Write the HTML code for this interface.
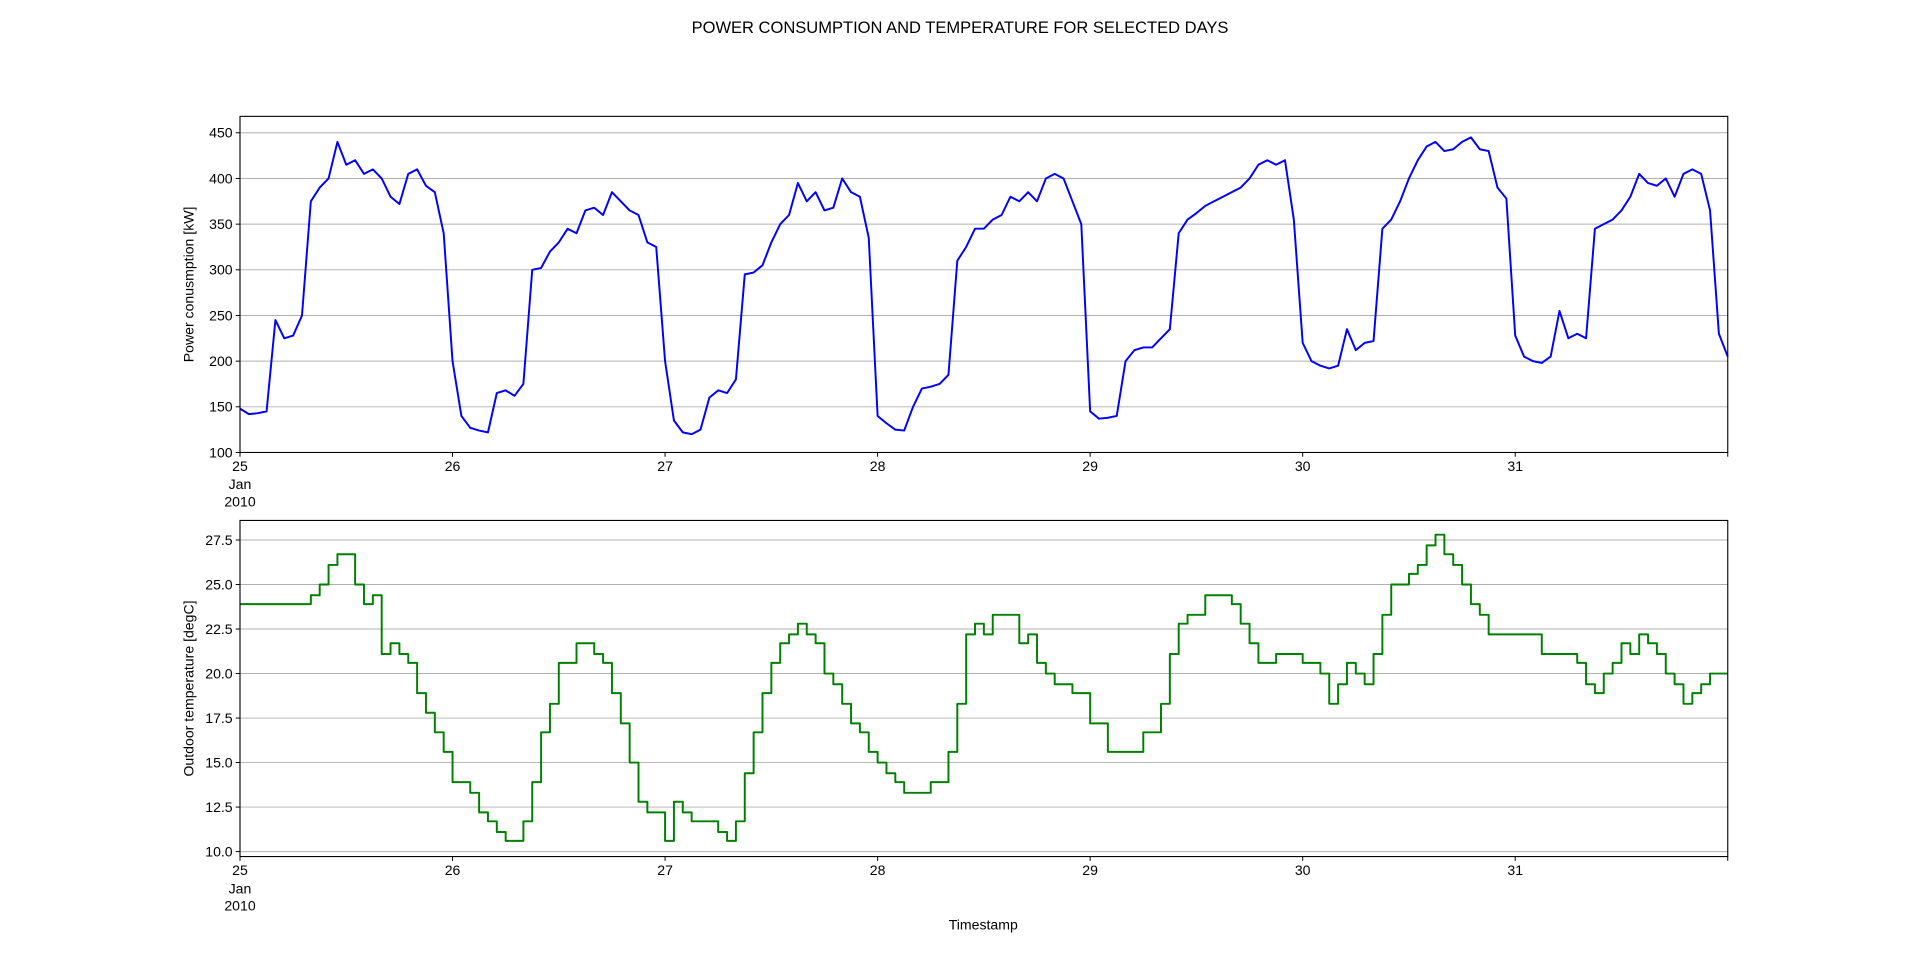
<!DOCTYPE html>
<html><head><meta charset="utf-8"><style>
html,body{margin:0;padding:0;background:#fff;}
svg{display:block;font-family:"Liberation Sans","DejaVu Sans",sans-serif;}
</style></head><body>
<svg id="chart" width="1920" height="963" viewBox="0 0 1568 786.4" xmlns="http://www.w3.org/2000/svg">
<rect width="1568" height="786.4" fill="#fff"/>
<text x="784" y="27" text-anchor="middle" font-size="13.5">POWER CONSUMPTION AND TEMPERATURE FOR SELECTED DAYS</text>
<g id="top"></g>
<g id="bot"></g>
<text x="803" y="759" text-anchor="middle" font-size="11.5">Timestamp</text>
</svg>
<script>
const dayLabels = ["25","26","27","28","29","30","31"];
const powerTicks = [100,150,200,250,300,350,400,450];
const tempTicks = [10.0,12.5,15.0,17.5,20.0,22.5,25.0,27.5];
const power = [
148,142,143,145,245,225,228,250,375,390,400,440,415,420,405,410,400,380,372,405,410,392,385,340,
200,140,127,124,122,165,168,162,175,300,302,320,330,345,340,365,368,360,385,375,365,360,330,325,
200,135,122,120,125,160,168,165,180,295,297,305,330,350,360,395,375,385,365,368,400,385,380,335,
140,132,125,124,150,170,172,175,185,310,325,345,345,355,360,380,375,385,375,400,405,400,375,350,
145,137,138,140,200,212,215,215,225,235,340,355,362,370,375,380,385,390,400,415,420,415,420,355,
220,200,195,192,195,235,212,220,222,345,355,375,400,420,435,440,430,432,440,445,432,430,390,378,
228,205,200,198,205,255,225,230,225,345,350,355,365,380,405,395,392,400,380,405,410,405,365,230,205];
const temp = [
23.9,23.9,23.9,23.9,23.9,23.9,23.9,23.9,24.4,25.0,26.1,26.7,26.7,25.0,23.9,24.4,21.1,21.7,21.1,20.6,18.9,17.8,16.7,15.6,
13.9,13.9,13.3,12.2,11.7,11.1,10.6,10.6,11.7,13.9,16.7,18.3,20.6,20.6,21.7,21.7,21.1,20.6,18.9,17.2,15.0,12.8,12.2,12.2,
10.6,12.8,12.2,11.7,11.7,11.7,11.1,10.6,11.7,14.4,16.7,18.9,20.6,21.7,22.2,22.8,22.2,21.7,20.0,19.4,18.3,17.2,16.7,15.6,
15.0,14.4,13.9,13.3,13.3,13.3,13.9,13.9,15.6,18.3,22.2,22.8,22.2,23.3,23.3,23.3,21.7,22.2,20.6,20.0,19.4,19.4,18.9,18.9,
17.2,17.2,15.6,15.6,15.6,15.6,16.7,16.7,18.3,21.1,22.8,23.3,23.3,24.4,24.4,24.4,23.9,22.8,21.7,20.6,20.6,21.1,21.1,21.1,
20.6,20.6,20.0,18.3,19.4,20.6,20.0,19.4,21.1,23.3,25.0,25.0,25.6,26.1,27.2,27.8,26.7,26.1,25.0,23.9,23.3,22.2,22.2,22.2,
22.2,22.2,22.2,21.1,21.1,21.1,21.1,20.6,19.4,18.9,20.0,20.6,21.7,21.1,22.2,21.7,21.1,20.0,19.4,18.3,18.9,19.4,20.0,20.0,20.0];

const NS="http://www.w3.org/2000/svg";
const X0=196, X1=1411, HOURS=168;
const xh = h => X0 + (X1-X0)*h/HOURS;
function mk(tag, attrs, parent){const e=document.createElementNS(NS,tag);for(const k in attrs)e.setAttribute(k,attrs[k]);parent.appendChild(e);return e;}

function panel(g, top, bot, vmin, vmax, ticks, fmt, ylabel, data, color, step, panelName){
  const y = v => bot - (v-vmin)/(vmax-vmin)*(bot-top);
  ticks.forEach(t=>{
    const gl=mk('line',{x1:X0,x2:X1,y1:y(t),y2:y(t),stroke:'#b0b0b0','stroke-width':0.8},g);
    
    
    const tk=mk('line',{x1:X0-3.5,x2:X0,y1:y(t),y2:y(t),stroke:'#000','stroke-width':0.8},g);
    
    
    const tl=mk('text',{x:X0-6,y:y(t)+4,'text-anchor':'end','font-size':11.5},g);
    
    
    tl.textContent=fmt(t);
  });
  let d='';
  data.forEach((v,i)=>{
    const px=xh(i), py=y(v);
    if(i===0) d+='M'+px+','+py;
    else if(step) d+='H'+px+'V'+py;
    else d+='L'+px+','+py;
  });
  if(step) d+='H'+X1;
  const ln=mk('path',{d:d,fill:'none',stroke:color,'stroke-width':1.6,'stroke-linejoin':'round'},g);
  
  
  const fr=mk('rect',{x:X0,y:top,width:X1-X0,height:bot-top,fill:'none',stroke:'#000','stroke-width':0.9},g);
  
  
  for(let i=0;i<=7;i++){
    const px=xh(i*24);
    const tk=mk('line',{x1:px,x2:px,y1:bot,y2:bot+3.5,stroke:'#000','stroke-width':0.8},g);
    
    
    if(i<7){
      const tl=mk('text',{x:px,y:bot+15,'text-anchor':'middle','font-size':11.5},g);
      
      
      tl.textContent=dayLabels[i];
      if(i===0){
        const a=mk('text',{x:px,y:bot+30,'text-anchor':'middle','font-size':11.5},g);
        
        
        a.textContent='Jan';
        const b=mk('text',{x:px,y:bot+44,'text-anchor':'middle','font-size':11.5},g);
        
        
        b.textContent='2010';
      }
    }
  }
  const cy=(top+bot)/2;
  const yl=mk('text',{x:0,y:0,'text-anchor':'middle','font-size':11.5,transform:'translate(158,'+cy+') rotate(-90)'},g);
  
  
  yl.textContent=ylabel;
}
panel(document.getElementById('top'),95,369.5,100,468,powerTicks,t=>String(t),'Power conusmption [kW]',power,'#0000ff',false,'power');
panel(document.getElementById('bot'),425,699.5,9.72,28.6,tempTicks,t=>t.toFixed(1),'Outdoor temperature [degC]',temp,'#008000',true,'temperature');
</script>
</body></html>
